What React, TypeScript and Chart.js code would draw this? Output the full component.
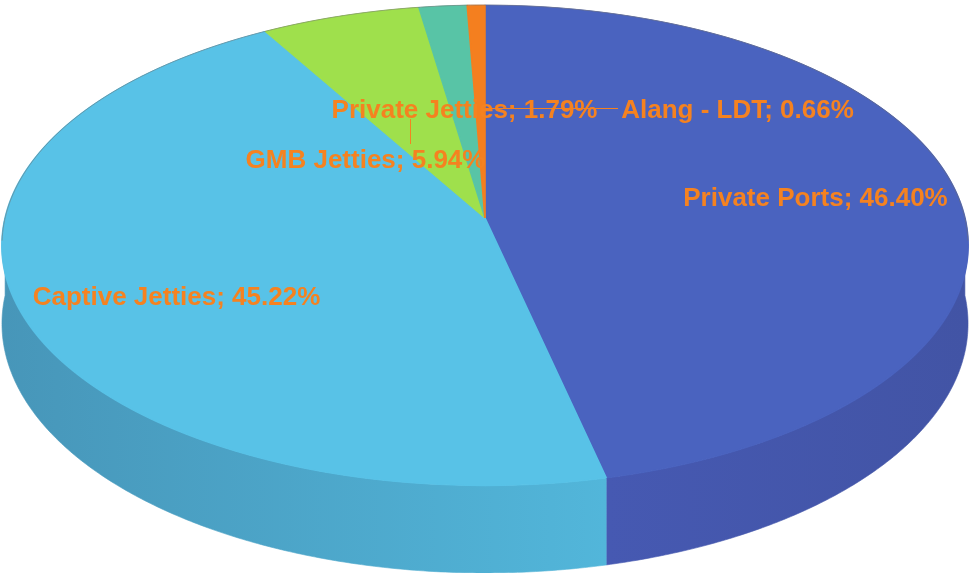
import React, { useEffect, useRef } from 'react';
import { Chart, registerables } from 'chart.js';

Chart.register(...registerables);

// ---- data ----
const categories = ['Private Ports', 'Captive Jetties', 'GMB Jetties', 'Private Jetties', 'Alang - LDT'];
const shares = [46.4, 45.22, 5.94, 1.79, 0.66];
const topColors = ['#4A63BF', '#58C2E7', '#9FE04C', '#58C4A6', '#F47F1F'];
const sideLeftColors = ['#4659B2', '#4796B9', '#8CC843', '#4EAE94', '#D9701B'];
const sideRightColors = ['#4254A5', '#52B6DA', '#8CC843', '#4EAE94', '#D9701B'];

// ---- layout (perspective projection of the pie plane) ----
const W = 969;
const H = 573;
const CX = 485; // screen x of pie centre
const Y0 = 218; // screen y of pie centre
const A = 479.9; // horizontal scale
const B = 237.2; // vertical scale
const P = 0.1136; // perspective strength
const D0 = 77.4; // wall height
const labelX = [815.5, 176.5, 365.5, 464.5, 737.5];
const labelY = [206, 305, 168, 118, 118];
const LABEL_COLOR = '#F58220';
const LABEL_FONT = "bold 26px 'Liberation Sans', Arial, sans-serif";

function proj(u: number, v: number): [number, number] {
  const w = 1 - P * v;
  return [CX + (A * u) / w, Y0 + (B * v) / w];
}

const pie3d = {
  id: 'pie3d',
  beforeDatasetsDraw(chart: any) {
    const ctx = chart.ctx as CanvasRenderingContext2D;
    const meta = chart.getDatasetMeta(0);
    const arcs = meta.data as any[];
    if (!arcs.length) return;

    // side walls (front half)
    arcs.forEach((arc, i) => {
      const a1 = Math.max(arc.startAngle, 0);
      const a2 = Math.min(arc.endAngle, Math.PI);
      if (a2 <= a1) return;
      const N = Math.max(4, Math.ceil((a2 - a1) * 120));
      const top: [number, number][] = [];
      const bot: [number, number][] = [];
      for (let k = 0; k <= N; k++) {
        const t = a1 + ((a2 - a1) * k) / N;
        const u = Math.cos(t);
        const v = Math.sin(t);
        const [x, y] = proj(u, v);
        const w = 1 - P * v;
        top.push([x, y]);
        bot.push([x, y + D0 / w]);
      }
      const xs = top.map((p) => p[0]);
      const grad = ctx.createLinearGradient(Math.min(...xs), 0, Math.max(...xs), 0);
      grad.addColorStop(0, sideLeftColors[i]);
      grad.addColorStop(1, sideRightColors[i]);
      ctx.save();
      ctx.beginPath();
      top.forEach((p, k) => (k ? ctx.lineTo(p[0], p[1]) : ctx.moveTo(p[0], p[1])));
      for (let k = bot.length - 1; k >= 0; k--) ctx.lineTo(bot[k][0], bot[k][1]);
      ctx.closePath();
      ctx.fillStyle = grad;
      ctx.fill();
      ctx.strokeStyle = grad;
      ctx.lineWidth = 0.6;
      ctx.stroke();
      ctx.restore();
    });

    // top face: library arcs drawn row by row through the perspective mapping
    const a0 = arcs[0];
    const R = a0.outerRadius;
    const yTop = Math.floor(Y0 - B / (1 + P)) - 1;
    const yBot = Math.ceil(Y0 + B / (1 - P)) + 1;
    for (let r = yTop; r < yBot; r++) {
      const yc = r + 0.5;
      const dy = yc - Y0;
      const v = dy / (B + P * dy);
      const w = 1 - P * v;
      ctx.save();
      ctx.beginPath();
      ctx.rect(0, r, W, 1);
      ctx.clip();
      ctx.translate(CX, yc);
      ctx.scale(A / (w * R), B / (w * w * R));
      ctx.translate(-a0.x, -(a0.y + v * R));
      meta.controller.draw();
      ctx.restore();
    }
    return false;
  },
  afterDraw(chart: any) {
    const ctx = chart.ctx as CanvasRenderingContext2D;
    // faint back rim
    ctx.save();
    ctx.beginPath();
    for (let k = 0; k <= 200; k++) {
      const t = Math.PI * 0.97 + (Math.PI * 1.06 * k) / 200;
      const [x, y] = proj(Math.cos(t), Math.sin(t));
      k ? ctx.lineTo(x, y) : ctx.moveTo(x, y);
    }
    ctx.strokeStyle = 'rgba(110,110,110,0.5)';
    ctx.lineWidth = 1;
    ctx.stroke();
    ctx.restore();

    // leader lines
    ctx.save();
    ctx.strokeStyle = LABEL_COLOR;
    ctx.lineWidth = 1;
    ctx.beginPath();
    ctx.moveTo(410.5, 119);
    ctx.lineTo(410.5, 144);
    ctx.moveTo(485, 108.5);
    ctx.lineTo(618, 108.5);
    ctx.stroke();
    ctx.restore();

    // labels
    ctx.save();
    ctx.font = LABEL_FONT;
    ctx.fillStyle = LABEL_COLOR;
    ctx.textAlign = 'center';
    ctx.textBaseline = 'alphabetic';
    categories.forEach((c, i) => {
      ctx.fillText(`${c}; ${shares[i].toFixed(2)}%`, labelX[i], labelY[i]);
    });
    ctx.restore();
  },
};

export default function App() {
  const ref = useRef<HTMLCanvasElement | null>(null);
  useEffect(() => {
    document.body.style.margin = '0';
    const canvas = ref.current;
    if (!canvas) return;
    const chart = new Chart(canvas, {
      type: 'pie',
      data: {
        labels: categories,
        datasets: [
          {
            data: shares,
            backgroundColor: topColors,
            borderColor: topColors,
            borderWidth: 1,
            clip: false,
          } as any,
        ],
      },
      options: {
        responsive: false,
        animation: false,
        devicePixelRatio: 1,
        layout: { padding: 0 },
        plugins: {
          legend: { display: false },
          tooltip: { enabled: false },
        },
      },
      plugins: [pie3d],
    });
    return () => chart.destroy();
  }, []);
  return (
    <div style={{ width: W, height: H }}>
      <canvas ref={ref} width={W} height={H} style={{ display: 'block', width: W, height: H }} />
    </div>
  );
}
